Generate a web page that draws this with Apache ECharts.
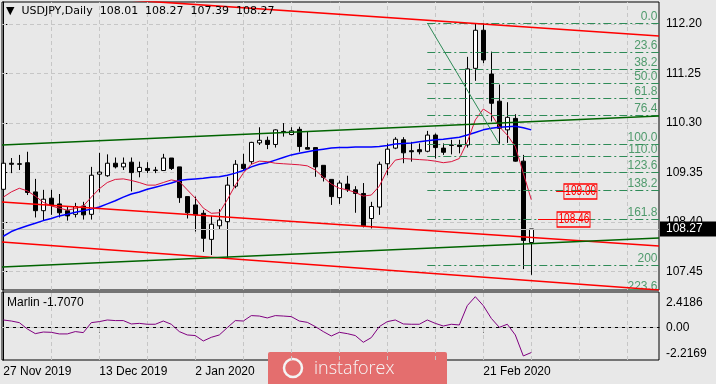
<!DOCTYPE html>
<html><head><meta charset="utf-8">
<script src="https://cdn.jsdelivr.net/npm/echarts@6/dist/echarts.min.js"></script>
<style>html,body{margin:0;padding:0;background:#e8e8e8}#c{width:716px;height:384px}</style>
</head><body><div id="c"></div>
<script>
// ---- data ----
const opens  = [109.03,109.53,109.52,109.54,108.98,108.62,108.86,108.75,108.62,108.55,108.71,108.55,109.32,109.29,109.53,109.46,109.55,109.37,109.43,109.39,109.39,109.63,109.46,108.89,108.73,108.57,108.07,108.33,108.41,109.09,109.51,109.56,109.92,109.97,109.89,110.13,110.08,110.18,109.83,109.83,109.49,109.22,108.87,109.13,109.02,108.95,108.47,108.69,109.52,109.82,109.98,109.77,109.79,109.76,110.07,109.82,109.87,109.88,109.88,111.35,112.08,111.24,110.72,110.17,110.39,109.57,108.01];
const highs  = [109.63,109.63,109.69,109.75,109.23,109.02,109.02,108.94,108.69,108.77,108.79,109.46,109.73,109.70,109.64,109.64,109.64,109.56,109.55,109.46,109.71,109.63,109.46,108.89,108.89,108.63,108.52,108.65,109.27,109.59,109.71,109.94,110.22,110.04,110.18,110.30,110.22,110.23,110.13,109.83,109.49,109.22,109.20,109.29,109.09,109.15,108.79,109.56,109.91,110.03,110.03,109.94,109.91,110.15,110.10,109.91,109.98,109.98,111.57,112.21,112.21,111.67,111.04,110.70,110.47,109.69,108.27];
const lows   = [109.00,109.34,109.40,108.92,108.49,108.43,108.54,108.49,108.43,108.49,108.45,108.45,108.97,109.27,109.43,109.40,108.99,109.26,109.34,109.34,109.39,109.40,108.77,108.47,108.22,107.83,107.77,108.25,107.71,109.05,109.40,109.51,109.88,109.80,109.83,110.04,110.07,109.75,109.80,109.27,109.18,108.73,108.75,108.98,108.58,108.30,108.28,108.54,109.30,109.80,109.53,109.56,109.70,109.74,109.62,109.69,109.70,109.72,109.83,111.11,111.45,110.33,109.89,109.92,109.56,107.50,107.39];
const closes = [109.53,109.51,109.51,108.97,108.62,108.84,108.73,108.58,108.52,108.70,108.54,109.30,109.36,109.53,109.46,109.53,109.35,109.45,109.39,109.40,109.63,109.43,108.87,108.58,108.54,108.09,108.36,108.44,109.11,109.51,109.43,109.93,109.97,109.89,110.17,110.14,110.15,109.85,109.80,109.46,109.26,108.89,109.15,109.02,108.95,108.33,108.70,109.51,109.80,109.99,109.73,109.75,109.75,110.07,109.83,109.74,109.88,109.85,111.34,112.08,111.51,110.68,110.20,110.41,109.57,108.05,108.27];
const maFast = [108.88,108.98,109.05,109.00,108.90,108.78,108.71,108.67,108.63,108.66,108.71,108.88,109.04,109.16,109.22,109.23,109.20,109.16,109.11,109.11,109.16,109.21,109.18,109.02,108.86,108.67,108.57,108.58,108.83,109.11,109.34,109.51,109.57,109.56,109.53,109.52,109.51,109.50,109.48,109.40,109.26,109.13,109.05,109.02,108.97,108.90,108.92,109.09,109.40,109.59,109.62,109.61,109.60,109.59,109.57,109.54,109.56,109.62,109.94,110.36,110.57,110.47,110.23,110.07,109.85,109.34,108.83];
const maSlow = [108.13,108.22,108.28,108.33,108.38,108.43,108.47,108.52,108.55,108.59,108.62,108.65,108.69,108.75,108.81,108.88,108.94,108.98,109.03,109.07,109.11,109.15,109.20,109.22,109.23,109.24,109.26,109.27,109.30,109.34,109.39,109.46,109.51,109.54,109.59,109.64,109.69,109.72,109.75,109.78,109.80,109.82,109.83,109.83,109.84,109.84,109.84,109.85,109.87,109.90,109.91,109.92,109.94,109.96,109.98,109.99,110.01,110.03,110.07,110.12,110.17,110.20,110.22,110.23,110.24,110.21,110.17];
const marlin = [0.51,0.44,0.33,-0.10,-0.42,-0.31,-0.33,-0.44,-0.44,-0.28,-0.35,0.33,0.40,0.51,0.47,0.47,0.24,0.28,0.22,0.22,0.44,0.22,-0.28,-0.51,-0.55,-0.92,-0.67,-0.51,-0.01,0.47,0.44,0.81,0.78,0.65,0.81,0.78,0.74,0.44,0.35,0.06,-0.28,-0.58,-0.33,-0.42,-0.55,-1.01,-0.69,0.06,0.40,0.51,0.24,0.22,0.22,0.51,0.28,0.10,0.22,0.17,1.49,2.10,1.49,0.62,0.01,0.22,-0.51,-1.94,-1.707];

const priceTicks = [107.45,108.40,109.35,110.30,111.25,112.20];
const marlinTicks = [-2.2169,0,2.4186];
const dateTickIdx = [0,12,24,60];
const dateTickLabels = ['27 Nov 2019','13 Dec 2019','2 Jan 2020','21 Feb 2020'];
const gridIdx = [6,12,18,24,30,36,42,48,54,60,66,72,78];

const fibLevels = [0,23.6,38.2,50,61.8,76.4,100,110,123.6,138.2,161.8,200,223.6];
const fibLabels = ['0.0','23.6','38.2','50.0','61.8','76.4','100.0','110.0','123.6','138.2','161.8','200','223.6'];
const fibFrom = [53,112.22];
const fibTo = [62,109.90];
const redLines = [[[-0.16,112.826],[81.96,111.970]],[[-0.16,108.787],[81.96,107.943]],[[-0.16,108.020],[81.96,107.099]]];
const greenLines = [[[-0.16,109.880],[81.96,110.436]],[[-0.16,107.540],[81.96,108.096]]];
const priceMarks = [[69.1,74.2,109.00],[66.84,73.34,108.46]];

const xMin = -0.1625, xMax = 81.9625;
const priceMin = 107.099, priceMax = 112.622;
const marlinMin = -2.2169, marlinMax = 2.4186;

// ---- chart ----
const N = opens.length;
const last = N - 1;
const F = '"Liberation Sans", Arial, sans-serif';
const gridStyle = {color:'#c6c6c6', type:[4,3], width:1};

const chart = echarts.init(document.getElementById('c'), null, {renderer:'canvas'});

const series = [];
// grid lines main
series.push({type:'line', xAxisIndex:0, yAxisIndex:0, data:[], silent:true,
  markLine:{silent:true, symbol:'none', z:1, animation:false, label:{show:false}, lineStyle:gridStyle,
    data:[...priceTicks.map(v=>({yAxis:v})), ...gridIdx.map(v=>({xAxis:v}))]}});
// current price line
series.push({type:'line', xAxisIndex:0, yAxisIndex:0, data:[], silent:true,
  markLine:{silent:true, symbol:'none', z:3, animation:false,
    lineStyle:{color:'#c0c0c0', type:'solid', width:1},
    label:{show:true, position:'end', distance:1, formatter:()=>closes[last].toFixed(2), color:'#fff', backgroundColor:'#000',
      fontFamily:F, fontSize:12, padding:[2,20,1,6]},
    data:[{yAxis:closes[last]}]}});
// candles
series.push({type:'candlestick', xAxisIndex:0, yAxisIndex:0, barWidth:5, z:2,
  data: opens.map((o,i)=>[i,o,closes[i],lows[i],highs[i]]), encode:{x:0, y:[1,2,3,4]},
  itemStyle:{color:'#ffffff', color0:'#000000', borderColor:'#000000', borderColor0:'#000000', borderWidth:1}});
// moving averages
series.push({type:'line', xAxisIndex:0, yAxisIndex:0, z:3, symbol:'none', data: maSlow.map((v,i)=>[i,v]), lineStyle:{color:'#0000ff', width:1.5}});
series.push({type:'line', xAxisIndex:0, yAxisIndex:0, z:3, symbol:'none', data: maFast.map((v,i)=>[i,v]), lineStyle:{color:'#dc143c', width:1}});
// trend lines
redLines.forEach(l=>series.push({type:'line', xAxisIndex:0, yAxisIndex:0, z:4, symbol:'none', data:l, lineStyle:{color:'#ff0000', width:1.6}}));
greenLines.forEach(l=>series.push({type:'line', xAxisIndex:0, yAxisIndex:0, z:4, symbol:'none', data:l, lineStyle:{color:'#006400', width:1.6}}));
// fib diagonal
series.push({type:'line', xAxisIndex:0, yAxisIndex:0, z:4, symbol:'none', data:[fibFrom, fibTo], lineStyle:{color:'#2e8b57', width:1}});
// fib levels
series.push({type:'custom', xAxisIndex:0, yAxisIndex:0, z:4, clip:true, silent:true,
  data: fibLevels.map(l=>[fibFrom[0], fibFrom[1] + (fibTo[1]-fibFrom[1])*l/100]),
  renderItem:(params, api)=>{
    const p = api.coord([api.value(0), api.value(1)]);
    const cs = params.coordSys;
    const xr = cs.x + cs.width;
    const y = Math.round(p[1]) + 0.5;
    return {type:'group', children:[
      {type:'line', shape:{x1:p[0], y1:y, x2:xr, y2:y}, style:{stroke:'#2e8b57', lineWidth:1, lineDash:[8,3,2,3]}},
      {type:'text', x:xr-1.5, y:y-1, style:{text:fibLabels[params.dataIndex], align:'right', verticalAlign:'bottom', fill:'#4f9a6c', font:'12px '+F}}
    ]};
  }});
// price marks 109.00 / 108.46
series.push({type:'custom', xAxisIndex:0, yAxisIndex:0, z:5, clip:true, silent:true,
  data: priceMarks.map(m=>[m[1], m[2]]),
  renderItem:(params, api)=>{
    const m = priceMarks[params.dataIndex];
    const a = api.coord([m[0], m[2]]);
    const b = api.coord([m[1], m[2]]);
    const y = Math.round(a[1]) + 0.5;
    return {type:'group', children:[
      {type:'line', shape:{x1:a[0], y1:y, x2:b[0], y2:y}, style:{stroke:'#ff0000', lineWidth:1}},
      {type:'text', x:b[0], y:y, scaleX:0.72, originX:0, originY:0,
        style:{x:0, y:0, text:m[2].toFixed(2), align:'right', verticalAlign:'middle', fill:'#ff0000',
        font:'14px "Liberation Sans"', padding:[1,1,0,2], borderColor:'#ff0000', borderWidth:1.3}}
    ]};
  }});
// indicator grid lines
series.push({type:'line', xAxisIndex:1, yAxisIndex:1, data:[], silent:true,
  markLine:{silent:true, symbol:'none', z:1, animation:false, label:{show:false}, lineStyle:gridStyle,
    data:[{yAxis:0}, ...gridIdx.map(v=>({xAxis:v}))]}});
// marlin
series.push({type:'line', xAxisIndex:1, yAxisIndex:1, z:3, symbol:'none', data: marlin.map((v,i)=>[i,v]), lineStyle:{color:'#800080', width:1}});

const option = {
  animation:false,
  backgroundColor:'#e8e8e8',
  textStyle:{fontFamily:F},
  title:[
    {text:'\u25BC  USDJPY,Daily  ' + [opens[last],highs[last],lows[last],closes[last]].map(v=>v.toFixed(2)).join('  '),
     left:6, top:6, padding:0, textStyle:{fontFamily:'"DejaVu Sans"', fontSize:11, fontWeight:'normal', color:'#000'}},
    {text:'Marlin ' + marlin[last].toFixed(4), left:7, top:297, padding:0, textStyle:{fontFamily:F, fontSize:12, fontWeight:'normal', color:'#000'}}
  ],
  grid:[
    {left:2, top:2, width:657, height:288, show:true, borderColor:'#000', borderWidth:1, backgroundColor:'transparent'},
    {left:2, top:292, width:657, height:68, show:true, borderColor:'#000', borderWidth:1, backgroundColor:'transparent'}
  ],
  xAxis:[
    {gridIndex:0, type:'value', min:xMin, max:xMax, show:false, splitLine:{show:false}},
    {gridIndex:1, type:'value', min:xMin, max:xMax, position:'bottom',
     axisLine:{show:true, lineStyle:{color:'#000'}},
     axisTick:{show:true, customValues:dateTickIdx, length:5, lineStyle:{color:'#000'}},
     axisLabel:{customValues:dateTickIdx, formatter:v=>dateTickLabels[dateTickIdx.indexOf(v)], align:'left', color:'#000', fontSize:12, margin:6},
     splitLine:{show:false}}
  ],
  yAxis:[
    {gridIndex:0, type:'value', position:'right', min:priceMin, max:priceMax,
     axisLine:{show:true, lineStyle:{color:'#000'}},
     axisTick:{show:true, customValues:priceTicks, length:4, lineStyle:{color:'#000'}},
     axisLabel:{customValues:priceTicks, formatter:v=>v.toFixed(2), color:'#000', fontSize:12, margin:7},
     splitLine:{show:false}},
    {gridIndex:1, type:'value', position:'right', min:marlinMin, max:marlinMax,
     axisLine:{show:true, lineStyle:{color:'#000'}},
     axisTick:{show:true, customValues:[0], length:4, lineStyle:{color:'#000'}},
     axisLabel:{customValues:marlinTicks, color:'#000', fontSize:12, margin:7,
       formatter:v=> v===0 ? '0.00' : (v>0 ? '{t|'+v.toFixed(4)+'}' : '{b|'+v.toFixed(4)+'}'),
       rich:{t:{padding:[21,0,0,0], fontSize:12, color:'#000'}, b:{padding:[0,0,13,0], fontSize:12, color:'#000'}}},
     splitLine:{show:false}}
  ],
  graphic:[
    {type:'group', x:268, y:352, silent:true, children:[
      {type:'rect', shape:{x:0, y:0, width:179, height:40, r:2}, style:{fill:'#e46e6e'}},
      {type:'circle', shape:{cx:25, cy:16, r:9}, style:{fill:'none', stroke:'#f4f4f4', lineWidth:2.5}},
      {type:'text', x:46, y:17, style:{text:'instaforex', fill:'#f6f6f6', font:'300 18px "Open Sans"', verticalAlign:'middle'}}
    ]}
  ],
  series: series
};
chart.setOption(option);
</script></body></html>
